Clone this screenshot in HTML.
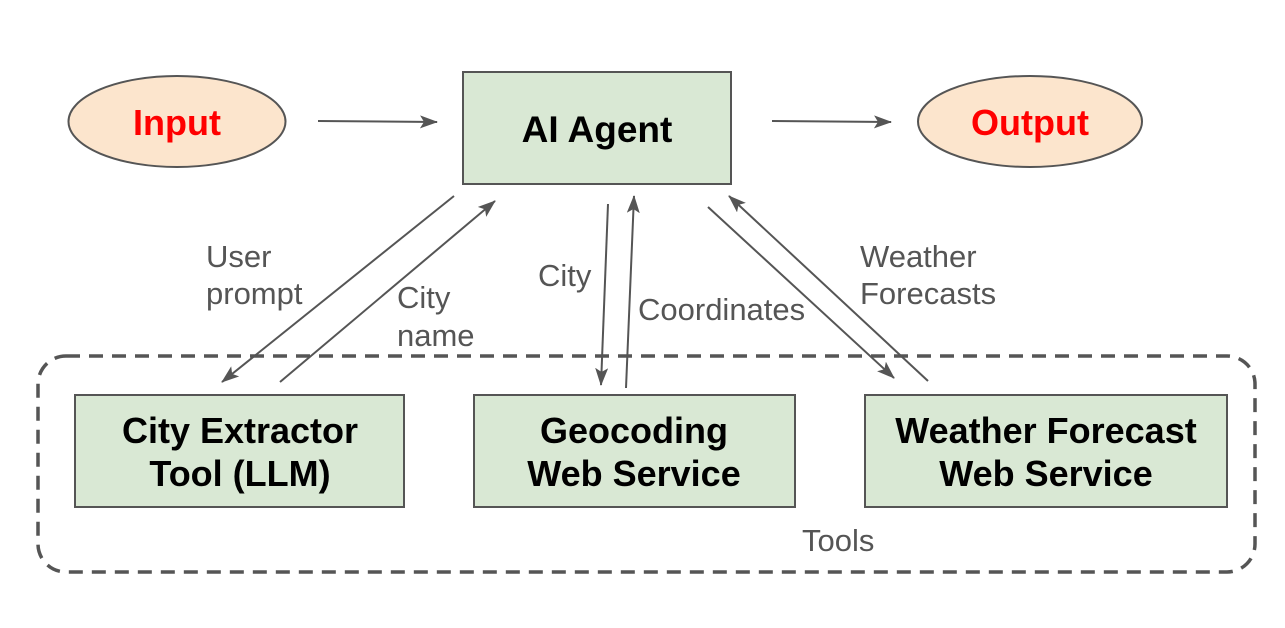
<!DOCTYPE html>
<html><head><meta charset="utf-8"><style>
html,body{margin:0;padding:0;background:#fff;}
svg{display:block;font-family:"Liberation Sans",Arial,sans-serif;}
</style></head><body>
<svg width="1285" height="628" viewBox="0 0 1285 628" xmlns="http://www.w3.org/2000/svg">
<defs>
<marker id="a" viewBox="0 0 18 13" refX="17" refY="6.5" markerWidth="18" markerHeight="13" markerUnits="userSpaceOnUse" orient="auto">
<path d="M0,0 L18,6.5 L0,13 L4,6.5 Z" fill="#555"/>
</marker>
</defs>
<rect width="1285" height="628" fill="#fff"/>
<rect x="38" y="356" width="1217" height="216" rx="28" fill="none" stroke="#555" stroke-width="3.5" stroke-dasharray="14,9"/>
<ellipse cx="177" cy="121.5" rx="108.5" ry="45.5" fill="#fce5cd" stroke="#555" stroke-width="2"/>
<text x="177" y="135" text-anchor="middle" font-size="36" font-weight="bold" fill="#ff0000">Input</text>
<ellipse cx="1030" cy="121.5" rx="112" ry="45.5" fill="#fce5cd" stroke="#555" stroke-width="2"/>
<text x="1030" y="135" text-anchor="middle" font-size="36" font-weight="bold" fill="#ff0000">Output</text>
<rect x="463" y="72" width="268" height="112" fill="#d9e8d4" stroke="#555" stroke-width="2"/>
<text x="597" y="142" text-anchor="middle" font-size="37" font-weight="bold" fill="#000">AI Agent</text>
<rect x="75" y="395" width="329" height="112" fill="#d9e8d4" stroke="#555" stroke-width="2"/>
<text x="240" y="443" text-anchor="middle" font-size="36" font-weight="bold" fill="#000">City Extractor</text>
<text x="240" y="486" text-anchor="middle" font-size="36" font-weight="bold" fill="#000">Tool (LLM)</text>
<rect x="474" y="395" width="321" height="112" fill="#d9e8d4" stroke="#555" stroke-width="2"/>
<text x="634" y="443" text-anchor="middle" font-size="36" font-weight="bold" fill="#000">Geocoding</text>
<text x="634" y="486" text-anchor="middle" font-size="36" font-weight="bold" fill="#000">Web Service</text>
<rect x="865" y="395" width="362" height="112" fill="#d9e8d4" stroke="#555" stroke-width="2"/>
<text x="1046" y="443" text-anchor="middle" font-size="36" font-weight="bold" fill="#000">Weather Forecast</text>
<text x="1046" y="486" text-anchor="middle" font-size="36" font-weight="bold" fill="#000">Web Service</text>
<g stroke="#555" stroke-width="2" fill="none">
<line x1="318" y1="121" x2="437" y2="122" marker-end="url(#a)"/>
<line x1="772" y1="121" x2="891" y2="122" marker-end="url(#a)"/>
<line x1="454" y1="196" x2="222" y2="382" marker-end="url(#a)"/>
<line x1="280" y1="382" x2="495" y2="201" marker-end="url(#a)"/>
<line x1="608" y1="204" x2="601" y2="385" marker-end="url(#a)"/>
<line x1="626" y1="388" x2="634" y2="196" marker-end="url(#a)"/>
<line x1="708" y1="207" x2="894" y2="378" marker-end="url(#a)"/>
<line x1="928" y1="381" x2="729" y2="196" marker-end="url(#a)"/>
</g>
<g font-size="31" fill="#555">
<text x="206" y="267">User</text>
<text x="206" y="304">prompt</text>
<text x="397" y="308">City</text>
<text x="397" y="346">name</text>
<text x="538" y="286">City</text>
<text x="638" y="320">Coordinates</text>
<text x="860" y="267">Weather</text>
<text x="860" y="304">Forecasts</text>
<text x="802" y="551">Tools</text>
</g>
</svg>
</body></html>
